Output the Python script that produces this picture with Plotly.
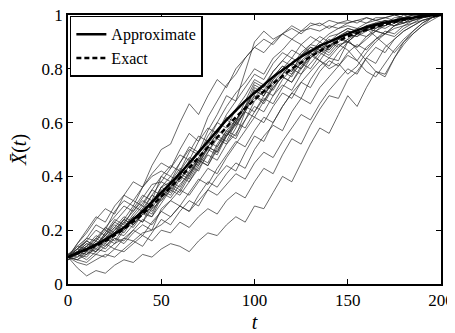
import plotly.graph_objects as go

t = [5 * i for i in range(41)]

approximate = [.10, .115, .13, .147, .165, .187, .21, .24, .27, .305, .34, .375, .41, .45, .49, .53, .57, .61, .645,
               .68, .71, .74, .77, .795, .82, .845, .865, .885, .90, .915, .93, .943, .955, .964, .972, .979, .985,
               .99, .995, .998, 1.0]
exact = [.10, .114, .128, .143, .16, .181, .205, .232, .26, .292, .325, .36, .395, .432, .47, .508, .545, .583, .62,
         .653, .685, .716, .745, .773, .80, .823, .845, .866, .885, .903, .92, .933, .945, .956, .965, .974, .982,
         .988, .994, .997, 1.0]

T1 = [.10, .15, .19, .24, .28, .26, .33, .38, .36, .44, .50, .52, .60, .67, .63, .70, .76, .73, .80, .84, .88,
      .86, .90, .93, .91, .94, .95, .94, .96, .95, .97, .98, .97, .99, .99, .98, 1.0, .99, 1.0, 1.0, 1.0]
T2 = [.10, .13, .17, .22, .20, .27, .31, .29, .36, .41, .45, .43, .50, .56, .53, .62, .68, .74, .78, .84, .88,
      .91, .89, .93, .95, .93, .96, .97, .95, .97, .98, .97, .99, .98, .99, 1.0, .99, 1.0, 1.0, 1.0, 1.0]
T3 = [.11, .12, .16, .14, .19, .24, .22, .28, .33, .31, .40, .38, .45, .51, .49, .57, .63, .70, .68, .79, .90,
      .94, .91, .93, .96, .94, .97, .96, .98, .97, .97, .98, .99, .98, .99, 1.0, .99, 1.0, 1.0, 1.0, 1.0]
T4 = [.10, .12, .11, .15, .18, .16, .21, .25, .23, .30, .36, .34, .40, .46, .44, .51, .56, .62, .60, .68, .75,
      .73, .79, .83, .81, .86, .89, .88, .92, .93, .95, .94, .96, .97, .96, .98, .99, .99, 1.0, 1.0, 1.0]
T5 = [.09, .11, .13, .12, .16, .19, .18, .22, .26, .25, .32, .36, .34, .40, .46, .51, .49, .56, .61, .66, .70,
      .68, .74, .78, .82, .80, .85, .88, .87, .91, .94, .93, .95, .96, .98, .97, .99, .99, 1.0, 1.0, 1.0]
T6 = [.10, .08, .07, .09, .11, .10, .13, .16, .14, .19, .24, .22, .27, .31, .29, .35, .40, .44, .42, .49, .55,
      .53, .60, .66, .71, .69, .76, .81, .84, .83, .90, .88, .92, .94, .93, .96, .97, .98, .99, 1.0, 1.0]
T7 = [.10, .06, .03, .05, .04, .07, .09, .08, .11, .10, .13, .15, .14, .12, .16, .19, .18, .22, .25, .23, .29,
      .28, .34, .40, .38, .45, .52, .58, .56, .63, .70, .66, .73, .79, .77, .84, .89, .93, .96, .98, 1.0]
T8 = [.10, .09, .08, .11, .10, .13, .12, .15, .18, .16, .20, .19, .23, .21, .25, .28, .26, .31, .34, .32, .38,
      .43, .41, .48, .54, .52, .59, .65, .70, .69, .76, .79, .84, .82, .88, .91, .94, .96, .98, .99, 1.0]
T9 = [.10, .12, .15, .14, .18, .21, .19, .24, .28, .26, .33, .37, .35, .41, .46, .44, .51, .56, .54, .61, .68,
      .72, .70, .76, .80, .78, .84, .87, .85, .89, .87, .83, .79, .77, .82, .87, .91, .94, .97, .99, 1.0]
T10 = [.11, .13, .12, .16, .20, .18, .23, .27, .31, .29, .36, .40, .38, .44, .49, .53, .51, .57, .61, .66, .72,
       .70, .76, .80, .78, .84, .88, .86, .90, .88, .91, .87, .83, .79, .78, .84, .90, .93, .96, .99, 1.0]
T11 = [.10, .14, .17, .16, .21, .25, .29, .27, .32, .37, .38, .43, .48, .46, .53, .58, .56, .63, .68, .73, .78,
       .76, .82, .86, .84, .89, .92, .90, .93, .95, .96, .95, .97, .98, .97, .99, .99, 1.0, 1.0, 1.0, 1.0]
T12 = [.09, .12, .14, .17, .15, .19, .23, .21, .26, .30, .35, .33, .39, .44, .42, .49, .55, .53, .60, .66, .74,
       .72, .77, .81, .79, .85, .88, .87, .90, .92, .93, .92, .95, .96, .95, .97, .98, .99, 1.0, 1.0, 1.0]
T13 = [.10, .09, .11, .13, .12, .15, .17, .16, .19, .20, .22, .25, .29, .27, .33, .38, .36, .41, .45, .43, .50,
       .55, .59, .57, .64, .69, .67, .73, .77, .81, .85, .83, .88, .91, .93, .92, .95, .97, .98, .99, 1.0]
T14 = [.10, .13, .16, .20, .18, .23, .27, .31, .29, .35, .40, .44, .42, .49, .55, .53, .60, .66, .71, .75, .80,
       .78, .84, .87, .91, .89, .86, .88, .91, .89, .90, .93, .95, .94, .96, .98, .97, .99, 1.0, 1.0, 1.0]
T15 = [.11, .10, .13, .16, .14, .18, .21, .25, .23, .28, .34, .32, .37, .41, .46, .44, .50, .55, .60, .64, .70,
       .67, .73, .77, .75, .80, .84, .88, .86, .90, .93, .92, .94, .96, .97, .96, .98, .99, .99, 1.0, 1.0]
T16 = [.10, .11, .09, .12, .15, .13, .17, .20, .18, .23, .27, .25, .29, .27, .31, .35, .33, .37, .41, .39, .45,
       .49, .47, .53, .58, .63, .61, .67, .72, .76, .80, .78, .84, .88, .86, .91, .94, .96, .98, .99, 1.0]
T17 = [.10, .12, .14, .18, .16, .20, .24, .22, .27, .28, .31, .35, .40, .38, .44, .49, .54, .52, .58, .65, .72,
       .70, .76, .80, .84, .82, .86, .83, .80, .82, .78, .81, .86, .90, .93, .95, .96, .98, .99, 1.0, 1.0]
T18 = [.10, .11, .14, .12, .17, .20, .24, .22, .26, .30, .36, .38, .36, .42, .47, .45, .52, .57, .55, .64, .73,
       .71, .77, .81, .79, .85, .87, .86, .90, .92, .94, .93, .95, .97, .96, .98, .99, .99, 1.0, 1.0, 1.0]
T19 = [.10, .15, .20, .25, .23, .29, .33, .31, .36, .40, .42, .40, .45, .50, .48, .55, .60, .58, .65, .70, .76,
       .74, .79, .83, .87, .85, .89, .92, .90, .93, .95, .94, .96, .97, .98, .97, .99, .99, 1.0, 1.0, 1.0]
T20 = [.09, .10, .12, .11, .14, .17, .15, .19, .22, .20, .28, .31, .35, .33, .38, .43, .41, .47, .52, .57, .62,
       .60, .66, .71, .69, .75, .79, .83, .81, .86, .90, .88, .91, .94, .93, .96, .97, .98, .99, 1.0, 1.0]
T21 = [.10, .12, .15, .13, .17, .21, .25, .23, .28, .33, .31, .36, .41, .39, .45, .50, .48, .55, .59, .64, .62,
       .68, .73, .77, .75, .81, .85, .83, .88, .91, .90, .93, .95, .94, .97, .98, .97, .99, 1.0, 1.0, 1.0]
T22 = [.10, .11, .10, .14, .17, .15, .20, .24, .27, .25, .30, .35, .33, .38, .43, .48, .46, .52, .56, .61, .66,
       .64, .70, .74, .72, .78, .82, .86, .84, .88, .91, .93, .92, .95, .97, .96, .98, .99, 1.0, 1.0, 1.0]
T23 = [.11, .14, .13, .17, .21, .19, .24, .29, .27, .33, .38, .36, .42, .47, .45, .51, .56, .61, .59, .65, .69,
       .74, .72, .78, .82, .80, .86, .89, .87, .91, .93, .95, .94, .96, .98, .97, .99, .99, 1.0, 1.0, 1.0]
T24 = [.10, .09, .12, .15, .13, .17, .16, .20, .24, .22, .27, .31, .29, .34, .39, .37, .43, .48, .53, .51, .57,
       .62, .60, .66, .71, .75, .73, .79, .83, .81, .86, .89, .87, .91, .94, .93, .96, .97, .99, 1.0, 1.0]
T25 = [.10, .13, .16, .14, .19, .23, .21, .26, .30, .35, .33, .38, .43, .41, .47, .52, .57, .55, .61, .66, .64,
       .70, .75, .79, .77, .83, .86, .90, .88, .92, .94, .93, .95, .92, .89, .86, .90, .94, .97, .99, 1.0]
T26 = [.10, .12, .11, .14, .18, .22, .20, .25, .29, .27, .32, .37, .42, .40, .46, .51, .49, .55, .60, .58, .64,
       .69, .67, .73, .78, .82, .80, .85, .88, .92, .90, .93, .96, .95, .97, .98, .99, .99, 1.0, 1.0, 1.0]

trajectories = [T1, T2, T3, T4, T5, T6, T7, T8, T9, T10, T11, T12, T13, T14, T15, T16, T17, T18, T19, T20,
                T21, T22, T23, T24, T25, T26]

x_ticks = [0, 50, 100, 150, 200]
y_ticks = [0, 0.2, 0.4, 0.6, 0.8, 1]
y_tick_labels = ["0", "0.2", "0.4", "0.6", "0.8", "1"]

FONT = "Liberation Serif"

fig = go.Figure()
for tr in trajectories:
    assert len(tr) == len(t)
    fig.add_trace(go.Scatter(x=t, y=tr, mode="lines", line=dict(color="#2a2a2a", width=0.7),
                             showlegend=False, hoverinfo="skip"))

fig.add_trace(go.Scatter(x=t, y=approximate, mode="lines", name="Approximate",
                         line=dict(color="black", width=2.5, shape="spline")))
fig.add_trace(go.Scatter(x=t, y=exact, mode="lines", name="Exact",
                         line=dict(color="black", width=2.5, dash="5px,3px", shape="spline")))

axis_common = dict(showline=True, linecolor="black", linewidth=1.5, mirror="ticks", ticks="inside",
                   ticklen=5, tickwidth=1, tickcolor="black", showgrid=False, zeroline=False,
                   automargin=False, ticklabeloverflow="allow",
                   tickfont=dict(family=FONT, size=17, color="black"))

# the page body adds an 8px offset, so the figure is sized to the window minus that offset
fig.update_layout(
    width=447, height=325,
    margin=dict(l=60, r=14, t=7, b=49),
    paper_bgcolor="white", plot_bgcolor="white",
    font=dict(family=FONT, color="black", size=17),
    xaxis=dict(range=[0, 200], tickvals=x_ticks, ticktext=[str(v) for v in x_ticks],
               title=dict(text="<i>t</i>", font=dict(family=FONT, size=20), standoff=6), **axis_common),
    yaxis=dict(range=[0, 1], tickvals=y_ticks, ticktext=y_tick_labels,
               title=dict(text="<i>X\u0304</i>(<i>t</i>)", font=dict(family=FONT, size=20), standoff=12),
               **axis_common),
    legend=dict(x=0.005, y=0.997, xanchor="left", yanchor="top", bgcolor="white", bordercolor="black",
                borderwidth=1.5, font=dict(family=FONT, size=16), tracegroupgap=0, itemwidth=30),
)

fig.write_html("out.html")
